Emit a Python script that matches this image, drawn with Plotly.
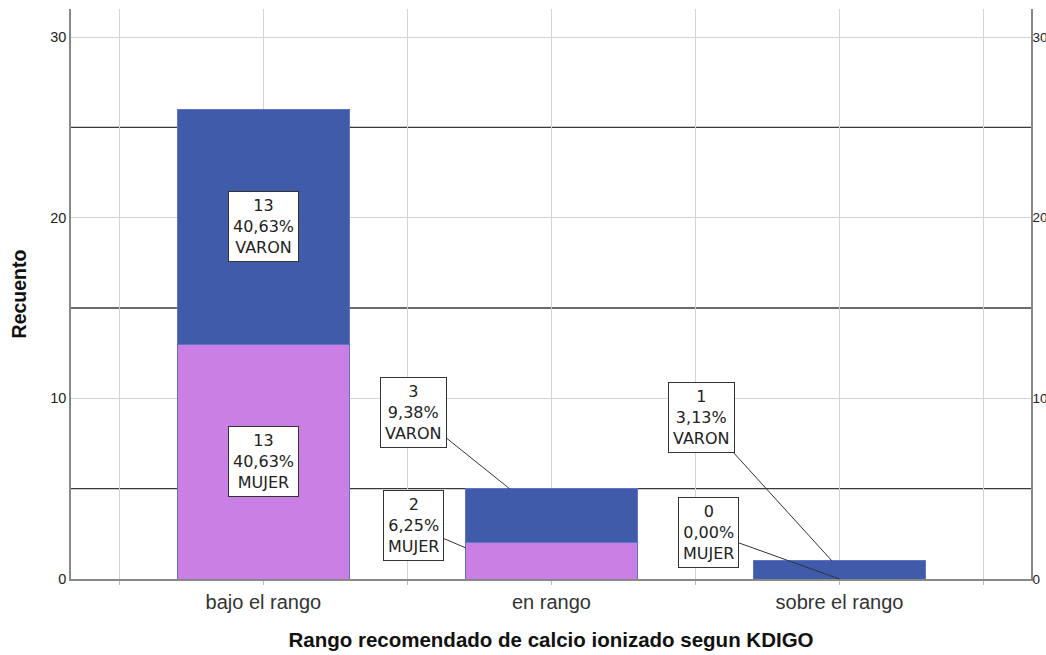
import plotly.graph_objects as go

categories = ["bajo el rango", "en rango", "sobre el rango"]
mujer = [13, 2, 0]
varon = [13, 3, 1]
mujer_pct = ["40,63%", "6,25%", "0,00%"]
varon_pct = ["40,63%", "9,38%", "3,13%"]
y_ticks = [0, 10, 20, 30]
dark_lines = [5, 15, 25]

xpos = list(range(len(categories)))
COL_M = "#C97FE3"
COL_V = "#3F5BAA"
EDGE = "#5E73C8"

fig = go.Figure()
fig.add_trace(go.Bar(x=xpos, y=mujer, name="MUJER", marker=dict(color=COL_M, line=dict(color=EDGE, width=1)),
                     width=0.595, hoverinfo="skip"))
fig.add_trace(go.Bar(x=xpos, y=varon, name="VARON", marker=dict(color=COL_V, line=dict(color=EDGE, width=1)),
                     width=0.595, hoverinfo="skip"))
fig.add_trace(go.Scatter(x=[0], y=[0], yaxis="y2", mode="markers", marker=dict(opacity=0), showlegend=False,
                         hoverinfo="skip"))

for v in dark_lines:
    fig.add_shape(type="line", xref="paper", x0=0, x1=1, yref="y", y0=v, y1=v,
                  line=dict(color="#3a3a3a", width=1.3), layer="below")

font_ann = dict(family="DejaVu Sans", size=16, color="#222")

def box(text, x, y, ax=0, ay=0, arrow=False):
    fig.add_annotation(x=x, y=y, text=text, showarrow=arrow, ax=ax, ay=ay, arrowhead=0,
                       arrowwidth=1, arrowcolor="#333", font=font_ann, bgcolor="white",
                       bordercolor="#333", borderwidth=1, borderpad=4, align="center")

def lbl(n, pct, sex):
    return f"{n}<br>{pct}<br>{sex}"

# bajo el rango: labels centered inside segments
box(lbl(mujer[0], mujer_pct[0], "MUJER"), 0, mujer[0] / 2)
box(lbl(varon[0], varon_pct[0], "VARON"), 0, mujer[0] + varon[0] / 2)
# en rango: callouts
box(lbl(varon[1], varon_pct[1], "VARON"), 0.856, mujer[1] + varon[1] - 0.02, ax=-96, ay=-77, arrow=True)
box(lbl(mujer[1], mujer_pct[1], "MUJER"), 0.703, 1.72, ax=-52, ay=-22, arrow=True)
# sobre el rango: callouts
box(lbl(varon[2], varon_pct[2], "VARON"), 1.974, mujer[2] + varon[2], ax=-130, ay=-143, arrow=True)
box(lbl(mujer[2], mujer_pct[2], "MUJER"), 2.0, 0, ax=-131, ay=-47, arrow=True)

grid_x = [-0.5, 0, 0.5, 1, 1.5, 2, 2.5]
tick_text = []
for g in grid_x:
    tick_text.append(categories[int(g)] if g == int(g) and 0 <= g < len(categories) else "")

fig.update_layout(
    barmode="stack",
    width=1046, height=655,
    margin=dict(l=71, r=15, t=9, b=76),
    plot_bgcolor="white", paper_bgcolor="white",
    showlegend=False,
    xaxis=dict(range=[-0.668, 2.665], tickvals=grid_x, ticktext=tick_text,
               showgrid=True, gridcolor="#d3d3d3", gridwidth=1.3,
               ticks="outside", ticklen=4, tickcolor="#bbb",
               tickfont=dict(family="Liberation Sans", size=20, color="#333"),
               showline=True, linecolor="#888", linewidth=1.5, zeroline=False,
               title=dict(text="<b>Rango recomendado de calcio ionizado segun KDIGO</b>",
                          font=dict(family="Liberation Sans", size=20.5, color="#111"), standoff=21),
               fixedrange=True, automargin=False),
    yaxis=dict(range=[0, 31.55], tickvals=y_ticks, showgrid=True, gridcolor="#d3d3d3", gridwidth=1.3,
               showline=True, linecolor="#888", linewidth=1.5, zeroline=False, ticks="",
               tickfont=dict(family="Liberation Sans", size=14.5, color="#222"),
               title=dict(text="<b>Recuento</b>", font=dict(family="Liberation Sans", size=19.5, color="#111"),
                          standoff=18),
               fixedrange=True, automargin=False),
    yaxis2=dict(range=[0, 31.55], tickvals=y_ticks, overlaying="y", side="right", showgrid=False,
                showline=True, linecolor="#888", linewidth=1.5, zeroline=False, ticks="",
                ticklabelstandoff=-3,
                tickfont=dict(family="Liberation Sans", size=13.5, color="#222"),
                fixedrange=True, automargin=False),
)

fig.write_html("out.html", config={"displayModeBar": False},
               post_script="document.body.style.margin='0';")
